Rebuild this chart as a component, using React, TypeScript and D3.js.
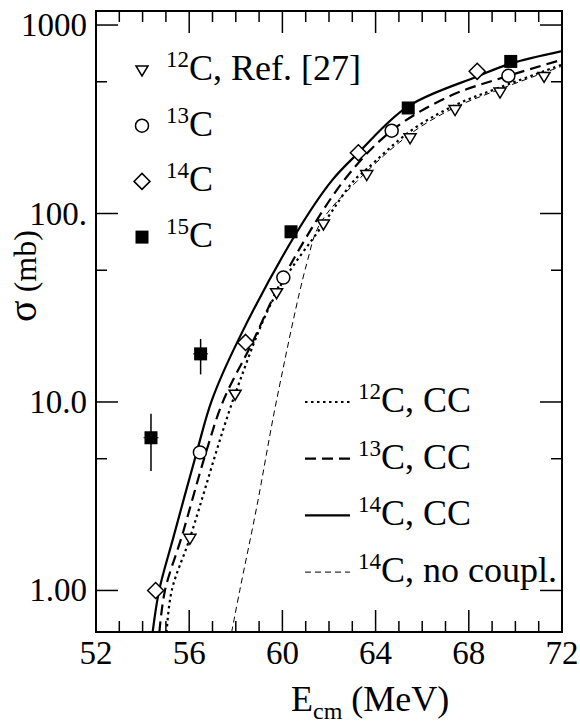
import { useEffect, useRef } from "react";
import * as d3 from "d3";

const W = 580;
const H = 724;
const FRAME = { left: 96, right: 562, top: 11, bottom: 632 };
const FONT = "'Liberation Serif', 'DejaVu Serif', serif";

// measured points
const c12Energy = [56.03, 57.97, 59.75, 61.76, 63.62, 65.48, 67.41, 69.34, 71.23];
const c12Sigma = [1.89, 11, 38, 88, 161, 252, 356, 441, 534];

const c13Energy = [56.46, 60.04, 64.69, 69.7];
const c13Sigma = [5.4, 45.7, 275, 538];

const c14Energy = [54.56, 58.42, 63.26, 68.36];
const c14Sigma = [1.0, 20.7, 210, 568];

const c15Energy = [54.36, 56.49, 60.37, 65.4, 69.8];
const c15Sigma = [6.46, 18, 80, 363, 641];
const c15Low = [4.3, 14, 80, 363, 641];
const c15High = [8.66, 21.6, 80, 363, 641];
const c15ErrE = [0.32, 0.32, 0, 0, 0];

// calculations
const cc12Energy = [55.03, 55.25, 56.03, 57.97, 59.75, 61.76, 63.04, 63.62, 65.48, 67.4, 69.34, 72];
const cc12Sigma = [0.6, 1.0, 1.9, 11, 38, 88, 148, 172, 273, 375, 467, 616];

const cc13Energy = [54.72, 54.96, 55.68, 56.72, 57.47, 58.68, 60.04, 62.61, 64.69, 67.19, 69.62, 72];
const cc13Sigma = [0.6, 1.0, 1.93, 5.4, 10.2, 20.3, 45.7, 148, 275, 420, 534, 655];

const cc14Energy = [54.43, 54.71, 55.33, 56.32, 56.97, 58.09, 60.63, 62.13, 63.26, 65.39, 68.39, 69.8, 72];
const cc14Sigma = [0.6, 1.0, 1.93, 5.4, 10.2, 21.1, 80, 150, 210, 370, 535, 625, 728];

const nc14Energy = [57.82, 58.17, 58.9, 59.75, 61.04, 61.61, 63.19, 65.5, 67.4, 69.3, 72];
const nc14Sigma = [0.6, 1.0, 2.78, 10.2, 54, 88, 148, 265, 365, 455, 605];

const xMajor = [52, 56, 60, 64, 68, 72];
const xMinor = [53, 54, 55, 57, 58, 59, 61, 62, 63, 65, 66, 67, 69, 70, 71];
const yMajor = [1, 10, 100, 1000];
const yMajorLabels = ["1.00", "10.0", "100.", "1000"];
const yMinor = [5, 50, 500];

const markerLegend = [
  { kind: "tri", sup: "12", text: "C, Ref. [27]" },
  { kind: "circle", sup: "13", text: "C" },
  { kind: "diamond", sup: "14", text: "C" },
  { kind: "square", sup: "15", text: "C" },
];

const curveStyles = [
  { sup: "12", text: "C, CC", width: 2.2, dash: "2.5 3.5" },
  { sup: "13", text: "C, CC", width: 2.2, dash: "11 6" },
  { sup: "14", text: "C, CC", width: 2.2, dash: null },
  { sup: "14", text: "C, no coupl.", width: 1, dash: "6 4" },
];

const App = () => {
  const svgRef = useRef<SVGSVGElement>(null);

  useEffect(() => {
    if (!svgRef.current) return;
    document.body.style.margin = "0";

    const svg = d3.select(svgRef.current);
    svg.selectAll("*").remove();

    const x = d3.scaleLinear().domain([52, 72]).range([FRAME.left, FRAME.right]);
    const y = d3.scaleLog().domain([0.602, 1187]).range([FRAME.bottom, FRAME.top]);

    svg
      .append("clipPath")
      .attr("id", "plot-clip")
      .append("rect")
      .attr("x", FRAME.left)
      .attr("y", FRAME.top)
      .attr("width", FRAME.right - FRAME.left)
      .attr("height", FRAME.bottom - FRAME.top);

    // ticks, all pointing inwards
    const ticks = svg.append("g").attr("stroke", "black").attr("stroke-width", 1.5);
    const xTick = (v: number, len: number) => {
      ticks.append("line").attr("x1", x(v)).attr("x2", x(v)).attr("y1", FRAME.bottom).attr("y2", FRAME.bottom - len);
      ticks.append("line").attr("x1", x(v)).attr("x2", x(v)).attr("y1", FRAME.top).attr("y2", FRAME.top + len);
    };
    const yTick = (v: number, len: number) => {
      ticks.append("line").attr("x1", FRAME.left).attr("x2", FRAME.left + len).attr("y1", y(v)).attr("y2", y(v));
      ticks.append("line").attr("x1", FRAME.right).attr("x2", FRAME.right - len).attr("y1", y(v)).attr("y2", y(v));
    };
    xMajor.forEach((v) => xTick(v, 22));
    xMinor.forEach((v) => xTick(v, 11));
    yMajor.forEach((v) => yTick(v, 22));
    yMinor.forEach((v) => yTick(v, 11));

    svg
      .append("rect")
      .attr("x", FRAME.left)
      .attr("y", FRAME.top)
      .attr("width", FRAME.right - FRAME.left)
      .attr("height", FRAME.bottom - FRAME.top)
      .attr("fill", "none")
      .attr("stroke", "black")
      .attr("stroke-width", 2);

    // tick labels
    svg
      .append("g")
      .selectAll("text")
      .data(xMajor)
      .join("text")
      .attr("x", (d) => x(d))
      .attr("y", 664)
      .attr("text-anchor", "middle")
      .attr("font-family", FONT)
      .attr("font-size", 33)
      .text((d) => d);

    svg
      .append("g")
      .selectAll("text")
      .data(yMajor)
      .join("text")
      .attr("x", 87)
      .attr("y", (d) => y(d) + 11)
      .attr("text-anchor", "end")
      .attr("font-family", FONT)
      .attr("font-size", 33)
      .text((d, i) => yMajorLabels[i]);

    // axis titles
    const xt = svg
      .append("text")
      .attr("x", 291)
      .attr("y", 711)
      .attr("font-family", FONT)
      .attr("font-size", 36);
    xt.append("tspan").text("E");
    xt.append("tspan").attr("font-size", 24).attr("dy", 8).text("cm");
    xt.append("tspan").attr("dy", -8).text(" (MeV)");

    const yt = svg
      .append("text")
      .attr("transform", "translate(36,276) rotate(-90)")
      .attr("text-anchor", "middle")
      .attr("font-family", FONT)
      .attr("font-size", 32);
    yt.append("tspan").attr("font-size", 40).text("σ");
    yt.append("tspan").text(" (mb)");

    // curves
    const line = d3
      .line<[number, number]>()
      .x((d) => x(d[0]))
      .y((d) => y(d[1]))
      .curve(d3.curveCatmullRom.alpha(0.5));

    const curves = [
      d3.zip(cc12Energy, cc12Sigma),
      d3.zip(cc13Energy, cc13Sigma),
      d3.zip(cc14Energy, cc14Sigma),
      d3.zip(nc14Energy, nc14Sigma),
    ];
    const curveG = svg.append("g").attr("clip-path", "url(#plot-clip)");
    curves.forEach((pts, i) => {
      const st = curveStyles[i];
      curveG
        .append("path")
        .attr("d", line(pts as [number, number][]))
        .attr("fill", "none")
        .attr("stroke", "black")
        .attr("stroke-width", st.width)
        .attr("stroke-dasharray", st.dash);
    });

    // markers
    const drawMarker = (g: any, kind: string, cx: number, cy: number) => {
      if (kind === "tri") {
        g.append("path")
          .attr("d", `M${cx - 6},${cy - 4} L${cx + 6},${cy - 4} L${cx},${cy + 6} Z`)
          .attr("fill", "white")
          .attr("stroke", "black")
          .attr("stroke-width", 1.5);
      } else if (kind === "circle") {
        g.append("circle")
          .attr("cx", cx)
          .attr("cy", cy)
          .attr("r", 6.5)
          .attr("fill", "white")
          .attr("stroke", "black")
          .attr("stroke-width", 1.5);
      } else if (kind === "diamond") {
        g.append("path")
          .attr("d", `M${cx},${cy - 8} L${cx + 8},${cy} L${cx},${cy + 8} L${cx - 8},${cy} Z`)
          .attr("fill", "white")
          .attr("stroke", "black")
          .attr("stroke-width", 1.5);
      } else {
        g.append("rect")
          .attr("x", cx - 6.5)
          .attr("y", cy - 6.5)
          .attr("width", 13)
          .attr("height", 13)
          .attr("fill", "black");
      }
    };

    const pts = svg.append("g");
    // error bars of 15C
    c15Energy.forEach((e, i) => {
      if (c15High[i] !== c15Low[i]) {
        pts.append("line").attr("x1", x(e)).attr("x2", x(e)).attr("y1", y(c15Low[i])).attr("y2", y(c15High[i]))
          .attr("stroke", "black").attr("stroke-width", 1.5);
      }
      if (c15ErrE[i] > 0) {
        pts.append("line").attr("x1", x(e - c15ErrE[i])).attr("x2", x(e + c15ErrE[i])).attr("y1", y(c15Sigma[i])).attr("y2", y(c15Sigma[i]))
          .attr("stroke", "black").attr("stroke-width", 1);
      }
    });
    c12Energy.forEach((e, i) => drawMarker(pts, "tri", x(e), y(c12Sigma[i])));
    c13Energy.forEach((e, i) => drawMarker(pts, "circle", x(e), y(c13Sigma[i])));
    c14Energy.forEach((e, i) => drawMarker(pts, "diamond", x(e), y(c14Sigma[i])));
    c15Energy.forEach((e, i) => drawMarker(pts, "square", x(e), y(c15Sigma[i])));

    // legend: data
    const addLabel = (lx: number, ly: number, sup: string, rest: string) => {
      const t = svg.append("text").attr("x", lx).attr("y", ly).attr("font-family", FONT).attr("font-size", 36);
      t.append("tspan").attr("font-size", 23).attr("dy", -13).text(sup);
      t.append("tspan").attr("dy", 13).text(rest);
    };
    markerLegend.forEach((m, i) => {
      const my = 70 + i * 55.7;
      drawMarker(svg, m.kind, 142, my);
      addLabel(166, my + 10, m.sup, m.text);
    });

    // legend: curves
    curveStyles.forEach((c, i) => {
      const ly = 402 + i * 56.7;
      svg
        .append("line")
        .attr("x1", 305)
        .attr("x2", 350)
        .attr("y1", ly)
        .attr("y2", ly)
        .attr("stroke", "black")
        .attr("stroke-width", c.width)
        .attr("stroke-dasharray", c.dash);
      addLabel(358, ly + 10, c.sup, c.text);
    });
  }, []);

  return <svg ref={svgRef} width={W} height={H} style={{ display: "block", background: "white" }} />;
};

export default App;
